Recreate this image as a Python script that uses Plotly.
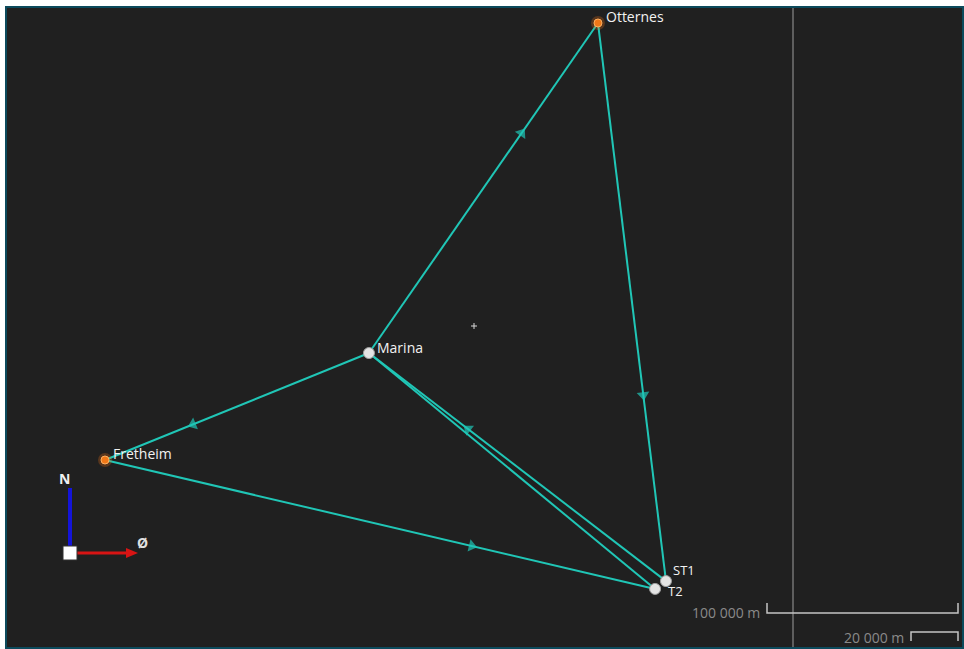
import plotly.graph_objects as go

# Site positions, local grid (metres east / north of Fretheim)
names = ["Fretheim", "Marina", "Otternes", "ST1", "T2"]
east = [0, 138200, 258100, 293700, 288000]
north = [0, 56000, 228800, -63400, -67500]
kinds = ["fixed", "free", "fixed", "free", "free"]

# Observed legs (from -> to)
legs = [
    ("Marina", "Otternes"),
    ("Otternes", "ST1"),
    ("ST1", "Marina"),
    ("Marina", "T2"),
    ("Marina", "Fretheim"),
    ("Fretheim", "T2"),
]
arrow_legs = ["Marina-Otternes", "Otternes-ST1", "ST1-Marina", "Marina-Fretheim", "Fretheim-T2"]

W, H = 964, 649
M_PER_PX = 100000 / 191.0
ORIGIN_PX = (105, 460)  # Fretheim in view pixels

pos = {n: (e, nn) for n, e, nn in zip(names, east, north)}

LINE = "#20c6b6"
BG = "#202020"
FONT = "Open Sans"

fig = go.Figure()

# legs
for a, b in legs:
    fig.add_trace(go.Scatter(
        x=[pos[a][0], pos[b][0]], y=[pos[a][1], pos[b][1]],
        mode="lines", line=dict(color=LINE, width=2),
        hoverinfo="skip", showlegend=False))

# direction arrows two thirds along each leg
for a, b in legs:
    if f"{a}-{b}" not in arrow_legs:
        continue
    (x0, y0), (x1, y1) = pos[a], pos[b]
    xm, ym = x0 + (x1 - x0) * 2 / 3, y0 + (y1 - y0) * 2 / 3
    fig.add_trace(go.Scatter(
        x=[x0, xm], y=[y0, ym], mode="markers",
        marker=dict(symbol="triangle-up", size=[0, 11], color=LINE,
                    angleref="previous", line=dict(width=0)),
        hoverinfo="skip", showlegend=False))

# stations
for n in names:
    e, nn = pos[n]
    if kinds[names.index(n)] == "fixed":
        fig.add_trace(go.Scatter(
            x=[e], y=[nn], mode="markers",
            marker=dict(size=14, color="rgba(255,120,20,0.25)", line=dict(width=0)),
            hoverinfo="skip", showlegend=False))
        fig.add_trace(go.Scatter(
            x=[e], y=[nn], mode="markers",
            marker=dict(size=8, color="#f07818", line=dict(color="#ffb060", width=1)),
            hoverinfo="skip", showlegend=False))
    else:
        fig.add_trace(go.Scatter(
            x=[e], y=[nn], mode="markers",
            marker=dict(size=11, color="#e4e4e4", line=dict(color="#a0a0a0", width=1)),
            hoverinfo="skip", showlegend=False))

# label offsets (px) and sizes
label_shift = {"Fretheim": (7, 7), "Marina": (7, 6), "Otternes": (7, 6), "ST1": (6, 11), "T2": (12, -2)}
label_size = {"Fretheim": 14, "Marina": 14, "Otternes": 14, "ST1": 13, "T2": 13}
for n in names:
    dx, dy = label_shift[n]
    fig.add_annotation(x=pos[n][0], y=pos[n][1], text=n, showarrow=False,
                       xanchor="left", yanchor="middle", xshift=dx, yshift=dy,
                       borderpad=0,
                       font=dict(family=FONT, size=label_size[n], color="#f2f2f2"))


def px_x(p):
    return p / W


def px_y(p):
    return 1 - p / H


shapes = []
# outer frame
shapes.append(dict(type="rect", xref="paper", yref="paper",
                   x0=px_x(6), x1=px_x(963), y0=px_y(648), y1=px_y(7),
                   fillcolor=BG, line=dict(color="#0c4a5c", width=2), layer="below"))
# vertical guide line
shapes.append(dict(type="line", xref="paper", yref="paper",
                   x0=px_x(793), x1=px_x(793), y0=px_y(647), y1=px_y(8),
                   line=dict(color="#5e5e5e", width=2)))
# view centre cross
for dx, dy in [((-3, 3), (0, 0)), ((0, 0), (-3, 3))]:
    shapes.append(dict(type="line", xref="paper", yref="paper",
                       x0=px_x(474 + dx[0]), x1=px_x(474 + dx[1]),
                       y0=px_y(326 + dy[0]), y1=px_y(326 + dy[1]),
                       line=dict(color="#d8d8d8", width=1)))
# scale bars
bar_col = "#c4c4c4"
shapes.append(dict(type="path", xref="paper", yref="paper",
                   path=f"M {px_x(767)},{px_y(603)} L {px_x(767)},{px_y(613)} L {px_x(958)},{px_y(613)} L {px_x(958)},{px_y(603)}",
                   line=dict(color=bar_col, width=1.5)))
shapes.append(dict(type="path", xref="paper", yref="paper",
                   path=f"M {px_x(911)},{px_y(641)} L {px_x(911)},{px_y(632)} L {px_x(958)},{px_y(632)} L {px_x(958)},{px_y(641)}",
                   line=dict(color=bar_col, width=1.5)))
# north / east axes glyph
shapes.append(dict(type="line", xref="paper", yref="paper",
                   x0=px_x(70), x1=px_x(70), y0=px_y(548), y1=px_y(488),
                   line=dict(color="#1414d8", width=4)))
shapes.append(dict(type="line", xref="paper", yref="paper",
                   x0=px_x(76), x1=px_x(128), y0=px_y(553), y1=px_y(553),
                   line=dict(color="#d81414", width=3)))
shapes.append(dict(type="path", xref="paper", yref="paper",
                   path=f"M {px_x(126)},{px_y(548)} L {px_x(138)},{px_y(553)} L {px_x(126)},{px_y(558)} Z",
                   fillcolor="#d81414", line=dict(width=0)))
shapes.append(dict(type="rect", xref="paper", yref="paper",
                   x0=px_x(63), x1=px_x(77), y0=px_y(560), y1=px_y(546),
                   fillcolor="#ffffff", line=dict(color="#303030", width=1)))

fig.update_layout(shapes=shapes)

for txt, x, y, col in [("N", 64, 478, "#f0f0f0"), ("Ø", 142, 542, "#e0e0e0")]:
    fig.add_annotation(xref="paper", yref="paper", x=px_x(x), y=px_y(y), text=f"<b>{txt}</b>",
                       showarrow=False, xanchor="center", yanchor="middle",
                       font=dict(family=FONT, size=14, color=col))
fig.add_annotation(xref="paper", yref="paper", x=px_x(762), y=px_y(612), text="100 000 m",
                   showarrow=False, xanchor="right", yanchor="middle",
                   font=dict(family=FONT, size=14, color="#8a8a8a"))
fig.add_annotation(xref="paper", yref="paper", x=px_x(906), y=px_y(637), text="20 000 m",
                   showarrow=False, xanchor="right", yanchor="middle",
                   font=dict(family=FONT, size=14, color="#8a8a8a"))

x_range = [(0 - ORIGIN_PX[0]) * M_PER_PX, (W - ORIGIN_PX[0]) * M_PER_PX]
y_range = [(ORIGIN_PX[1] - H) * M_PER_PX, ORIGIN_PX[1] * M_PER_PX]

fig.update_layout(
    width=W, height=H, margin=dict(l=0, r=0, t=0, b=0),
    paper_bgcolor="#ffffff", plot_bgcolor="rgba(0,0,0,0)",
    xaxis=dict(range=x_range, visible=False, fixedrange=True),
    yaxis=dict(range=y_range, visible=False, fixedrange=True),
)

fig.write_html("out.html")
